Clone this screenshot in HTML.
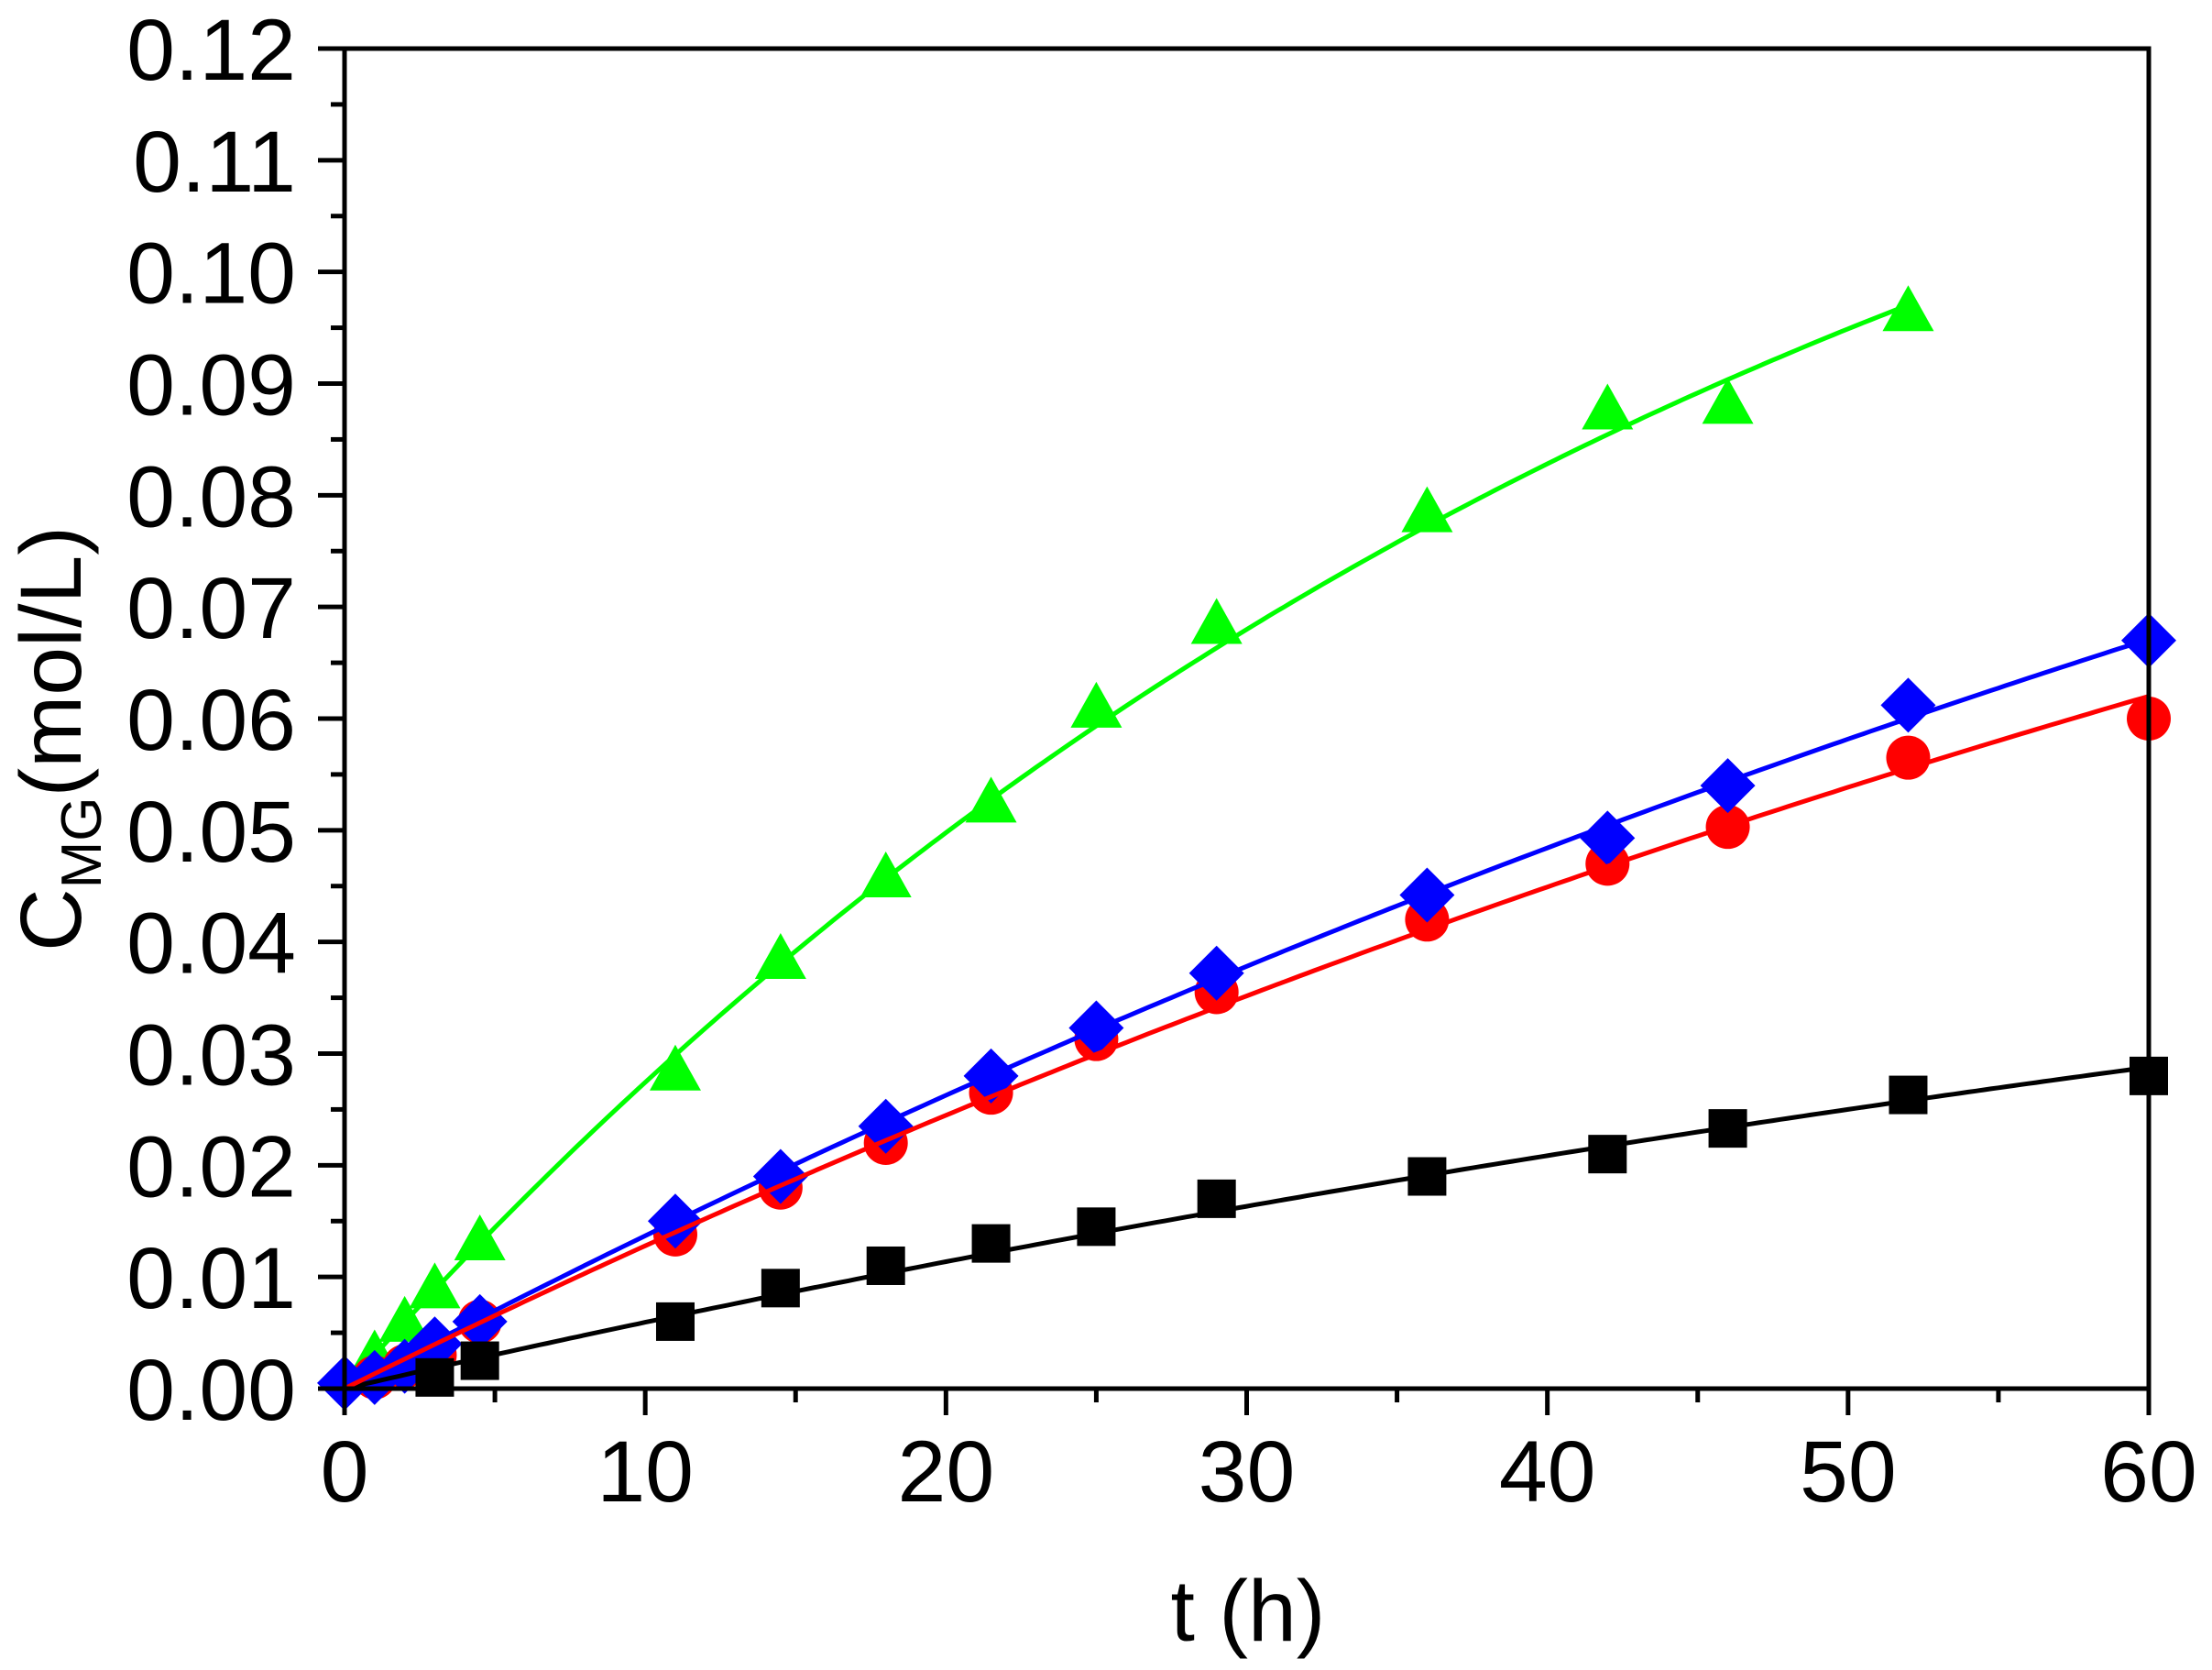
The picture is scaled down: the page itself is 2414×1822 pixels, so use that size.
<!DOCTYPE html>
<html><head><meta charset="utf-8">
<style>
html,body{margin:0;padding:0;background:#fff;}
svg{display:block;}
text{font-family:"Liberation Sans",Arial,sans-serif;fill:#000;}
</style></head>
<body>
<svg id="s" width="2414" height="1822" viewBox="0 0 2414 1822" xmlns="http://www.w3.org/2000/svg">
<rect width="2414" height="1822" fill="#fff"/>
<g id="data"></g>
<g id="axes"></g>
<text x="1362" y="1790" font-size="95" text-anchor="middle">t (h)</text>
<text transform="translate(88,806) rotate(-90)" font-size="95" text-anchor="middle">C<tspan font-size="62" dy="22">MG</tspan><tspan dy="-22">(mol/L)</tspan></text>
</svg>
<script>
var X0=376,X1=2345,Y0=1515,Y1=53;
function px(t){return X0+(X1-X0)*t/60;}
function py(c){return Y0-(Y0-Y1)*c/0.12;}
var ax='',d='';
ax+='<rect x="'+X0+'" y="'+Y1+'" width="'+(X1-X0)+'" height="'+(Y0-Y1)+'" fill="none" stroke="#000" stroke-width="5"/>';
for(var i=0;i<=24;i++){var c=i*0.005,y=py(c),L=(i%2==0)?29:15;
 ax+='<line x1="'+(X0-L)+'" x2="'+X0+'" y1="'+y+'" y2="'+y+'" stroke="#000" stroke-width="5"/>';
 if(i%2==0) ax+='<text x="323" y="'+(y+34)+'" font-size="95" text-anchor="end">'+c.toFixed(2)+'</text>';}
for(var i=0;i<=12;i++){var t=i*5,x=px(t),L=(i%2==0)?29:15;
 ax+='<line x1="'+x+'" x2="'+x+'" y1="'+Y0+'" y2="'+(Y0+L)+'" stroke="#000" stroke-width="5"/>';
 if(i%2==0) ax+='<text x="'+x+'" y="1638" font-size="95" text-anchor="middle">'+t+'</text>';}
document.getElementById('axes').innerHTML=ax;
function curve(a,k,tmax,col){var s='';for(var t=0;t<=tmax;t+=0.25){s+=(t==0?'M':'L')+px(t).toFixed(1)+' '+py(a*(1-Math.exp(-k*t))).toFixed(1);}
 return '<path d="'+s+'" fill="none" stroke="'+col+'" stroke-width="5"/>';}
var blk=[[3,0.001],[4.5,0.0025],[11,0.006],[14.5,0.009],[18,0.011],[21.5,0.013],[25,0.0145],[29,0.017],[36,0.019],[42,0.021],[46,0.0233],[52,0.0263],[60,0.028]];
var red=[[1,0.001],[2,0.002],[3,0.003],[4.5,0.006],[11,0.0138],[14.5,0.018],[18,0.022],[21.5,0.0265],[25,0.0313],[29,0.0355],[36,0.042],[42,0.047],[46,0.0503],[52,0.0565],[60,0.060]];
var blu=[[0,0.0005],[1,0.001],[2,0.002],[3,0.004],[4.5,0.006],[11,0.015],[14.5,0.019],[18,0.0235],[21.5,0.028],[25,0.0323],[29,0.0372],[36,0.0442],[42,0.0493],[46,0.054],[52,0.0612],[60,0.067]];
var grn=[[1,0.003],[2,0.006],[3,0.009],[4.5,0.0133],[11,0.0285],[14.5,0.0385],[18,0.0458],[21.5,0.0525],[25,0.061],[29,0.0685],[36,0.0785],[42,0.0877],[46,0.0882],[52,0.0965]];
d+=curve(0.148,0.0205,52,'#00ff00');
grn.forEach(function(q){var x=px(q[0]),y=py(q[1]);d+='<polygon points="'+(x-28)+','+(y+22)+' '+(x+28)+','+(y+22)+' '+x+','+(y-28)+'" fill="#00ff00"/>';});
red.forEach(function(q){d+='<circle cx="'+px(q[0])+'" cy="'+py(q[1])+'" r="24" fill="#ff0000"/>';});
blu.forEach(function(q){var x=px(q[0]),y=py(q[1]);d+='<polygon points="'+x+','+(y-30)+' '+(x+30)+','+y+' '+x+','+(y+30)+' '+(x-30)+','+y+'" fill="#0000ff"/>';});
blk.forEach(function(q){var x=px(q[0]),y=py(q[1]);d+='<rect x="'+(x-21)+'" y="'+(y-21)+'" width="42" height="42" fill="#000"/>';});
d+=curve(0.069,0.009,60,'#000');
d+=curve(0.168,0.0085,60,'#0000ff');
d+=curve(0.1486,0.009,60,'#ff0000');
document.getElementById('data').innerHTML=d;
</script>
</body></html>
